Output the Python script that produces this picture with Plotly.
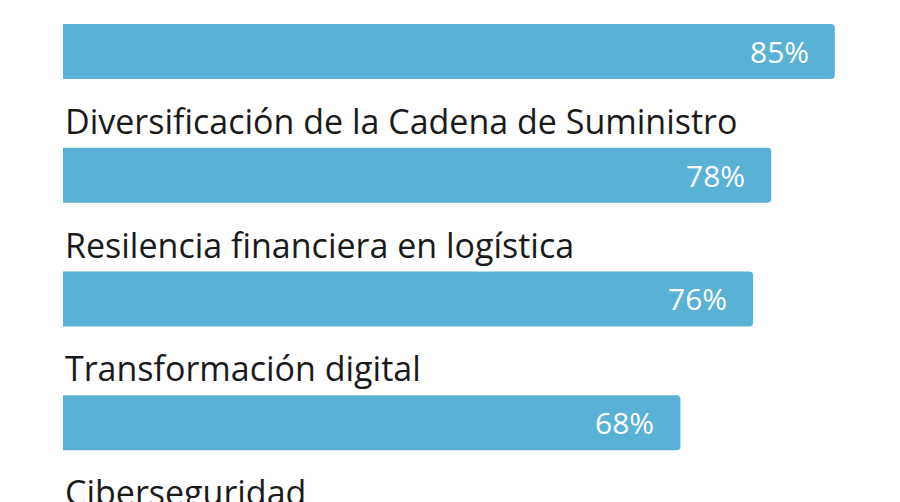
import plotly.graph_objects as go

categories = ["Sostenibilidad", "Diversificación de la Cadena de Suministro",
              "Resilencia financiera en logística", "Transformación digital",
              "Ciberseguridad"]
values = [85, 78, 76, 68, 60]
positions = [0, -1, -2, -3, -4]

fig = go.Figure(go.Bar(
    x=values, y=positions, orientation="h", width=0.445,
    marker=dict(color="#5ab1d6", line=dict(width=0)),
    hoverinfo="skip",
))

for v, p, c in zip(values, positions, categories):
    fig.add_annotation(x=v, y=p, text=f"{v}%", xanchor="right", showarrow=False,
                       xshift=-24, font=dict(color="white", size=30, family="Open Sans"))
    fig.add_annotation(x=0, y=p + 0.44, text=c, xanchor="left", showarrow=False,
                       xshift=0, font=dict(color="#1a1a1a", size=34, family="Open Sans"))

fig.update_layout(
    width=900, height=502, margin=dict(l=55, r=0, t=0, b=0),
    plot_bgcolor="white", paper_bgcolor="white", showlegend=False,
    barcornerradius=4,
    xaxis=dict(range=[0, 93.06], visible=False),
    yaxis=dict(range=[-3.706, 0.352], visible=False),
)

fig.write_html("out.html")
